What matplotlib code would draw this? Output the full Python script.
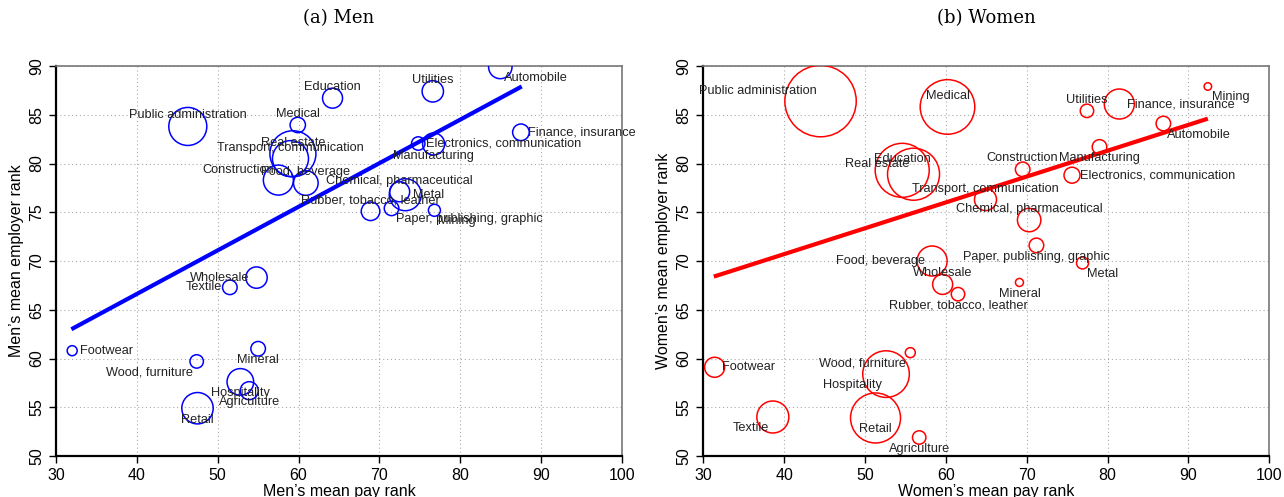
import numpy as np
import matplotlib
matplotlib.use("Agg")
import matplotlib.pyplot as plt

plt.rcParams['font.family'] = ['Liberation Sans', 'DejaVu Sans']

# men: industry, mean pay rank, mean employer rank, size (emp), label clock position
men_names = ["Automobile", "Utilities", "Education", "Medical", "Public administration",
             "Finance, insurance", "Electronics, communication", "Manufacturing", "Real estate",
             "Transport, communication", "Construction", "Food, beverage",
             "Chemical, pharmaceutical", "Metal", "Rubber, tobacco, leather",
             "Paper, publishing, graphic", "Mining", "Wholesale", "Textile", "Footwear",
             "Mineral", "Wood, furniture", "Hospitality", "Agriculture", "Retail"]
men_pay = [84.95, 76.6, 64.2, 59.9, 46.3, 87.5, 74.8, 76.7, 59.3, 59.0, 57.5, 60.9,
           72.5, 73.2, 68.9, 71.5, 76.8, 54.8, 51.5, 32.0, 55.0, 47.4, 52.8, 53.9, 47.5]
men_emp_rank = [89.9, 87.4, 86.7, 83.95, 83.8, 83.2, 82.05, 82.0, 81.0, 80.5, 78.3, 78.0,
                77.1, 76.8, 75.1, 75.4, 75.2, 68.3, 67.3, 60.8, 61.0, 59.7, 57.6, 56.7, 54.9]
men_size = [137, 114, 100, 59, 361, 69, 45, 121, 529, 324, 225, 151,
            100, 256, 86, 53, 36, 114, 53, 25, 53, 45, 177, 81, 246]
men_pos = [4, 12, 12, 12, 12, 3, 3, 6, 12, 12, 10, 12, 12, 3, 12, 4, 4, 9, 9, 3, 6, 8, 6, 6, 6]
men_fit_x = [31.9, 87.6]
men_fit_y = [63.0, 87.9]

women_names = ["Public administration", "Medical", "Education", "Real estate",
               "Transport, communication", "Chemical, pharmaceutical", "Construction",
               "Manufacturing", "Electronics, communication", "Utilities", "Finance, insurance",
               "Mining", "Automobile", "Paper, publishing, graphic", "Metal", "Mineral",
               "Food, beverage", "Wholesale", "Rubber, tobacco, leather", "Footwear",
               "Wood, furniture", "Hospitality", "Retail", "Textile", "Agriculture"]
women_pay = [44.5, 60.2, 54.6, 56.0, 64.9, 70.3, 69.5, 79.0, 75.6, 77.45, 81.45,
             92.4, 86.9, 71.2, 76.9, 69.1, 58.3, 59.6, 61.5, 31.4, 55.6, 52.6, 51.3, 38.6, 56.7]
women_emp_rank = [86.4, 85.8, 79.3, 78.9, 76.3, 74.2, 79.4, 81.7, 78.8, 85.4, 86.1,
                  87.9, 84.1, 71.6, 69.8, 67.8, 70.0, 67.6, 66.6, 59.1, 60.6, 58.4, 53.9, 54.0, 51.9]
women_size = [1274, 745, 729, 676, 121, 137, 53, 53, 64, 45, 225,
              14, 53, 53, 36, 16, 225, 100, 45, 100, 25, 543, 625, 256, 45]
women_pos = [10, 12, 12, 10, 12, 12, 12, 6, 3, 12, 3, 4, 4, 6, 4, 6, 9, 12, 6, 3, 8, 8, 6, 8, 6]
women_fit_x = [31.3, 92.4]
women_fit_y = [68.4, 84.6]

# clock position -> (dx, dy) in pixels, horizontal alignment
offsets = {12: (0, 11, 'center'), 6: (0, -11.5, 'center'), 3: (7.5, 0, 'left'),
           9: (-7.5, 0, 'right'), 4: (4, -11, 'left'), 8: (-4, -11, 'right'),
           10: (-4, 10, 'right'), 2: (4, 10, 'left')}

fig = plt.figure(figsize=(12.84, 4.97), dpi=100)
ax1 = fig.add_axes([56 / 1284, 41 / 497, 566 / 1284, 390 / 497])
ax2 = fig.add_axes([703.3 / 1284, 41 / 497, 566 / 1284, 390 / 497])


def panel(ax, names, px, py, size, pos, fx, fy, col, xlab, ylab, title):
    ax.set_axisbelow(True)
    ax.grid(True, color='#aaaaaa', linestyle=(0, (1, 2.5)), linewidth=0.8)
    # size is radius^2 in pixels -> area in points^2
    s = np.array(size) * (2 * 0.72) ** 2
    ax.scatter(px, py, s=s, facecolors='none', edgecolors=col, linewidths=1.1, zorder=3)
    ax.plot(fx, fy, color=col, linewidth=3.0, solid_capstyle='butt', zorder=4)
    for n, x, y, p in zip(names, px, py, pos):
        dx, dy, ha = offsets[p]
        ax.annotate(n, (x, y), xytext=(dx, dy), textcoords='offset pixels',
                    ha=ha, va='center', fontsize=9.2, color='#222222', zorder=5)
    ax.set_xlim(30, 100)
    ax.set_ylim(50, 90)
    ax.set_xticks(range(30, 101, 10))
    ax.set_yticks(range(50, 91, 5))
    ax.tick_params(axis='both', labelsize=11.5, length=5, width=1, direction='out',
                   color='black')
    for lbl in ax.get_yticklabels():
        lbl.set_rotation(90)
        lbl.set_va('center')
    for sp in ['left', 'bottom']:
        ax.spines[sp].set_linewidth(1.6)
        ax.spines[sp].set_color('black')
    for sp in ['top', 'right']:
        ax.spines[sp].set_linewidth(1.2)
        ax.spines[sp].set_color('#777777')
    ax.set_xlabel(xlab, fontsize=11.5, labelpad=1)
    ax.set_ylabel(ylab, fontsize=11.5, labelpad=4)
    bb = ax.get_position()
    fig.text((bb.x0 + bb.x1) / 2, 1 - 18 / 497, title, ha='center', va='center',
             fontsize=13, family='DejaVu Serif')


panel(ax1, men_names, men_pay, men_emp_rank, men_size, men_pos, men_fit_x, men_fit_y,
      '#0000ff', 'Men’s mean pay rank', 'Men’s mean employer rank', '(a) Men')
panel(ax2, women_names, women_pay, women_emp_rank, women_size, women_pos, women_fit_x,
      women_fit_y, '#ff0000', 'Women’s mean pay rank', 'Women’s mean employer rank',
      '(b) Women')

fig.savefig('out.png', dpi=100)
